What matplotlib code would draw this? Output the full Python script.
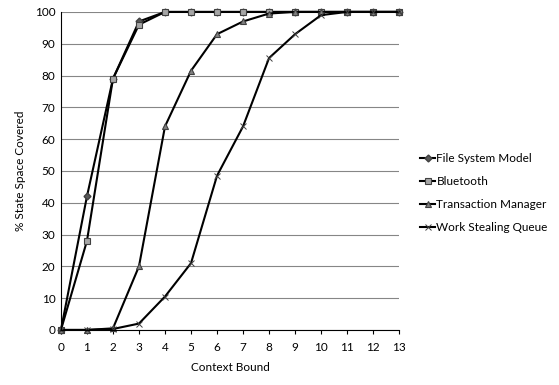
import numpy as np
import matplotlib
matplotlib.use('Agg')
import matplotlib.pyplot as plt

plt.rcParams['font.family'] = ['Lato', 'DejaVu Sans']

bounds = list(range(14))
file_system = [0, 42, 79, 97, 100, 100, 100, 100, 100, 100, 100, 100, 100, 100]
bluetooth = [0, 28, 79, 96, 100, 100, 100, 100, 100, 100, 100, 100, 100, 100]
transaction = [0, 0, 0.5, 20, 64, 81.5, 93, 97, 99.5, 100, 100, 100, 100, 100]
work_stealing = [0, 0, 0.3, 2, 10.5, 21, 48.5, 64, 85.5, 93, 99, 100, 100, 100]

fig = plt.figure(figsize=(5.59, 3.85), dpi=100)
ax = fig.add_axes([0.109, 0.143, 0.605, 0.826])

ax.plot(bounds, file_system, color='black', lw=1.5, marker='D', ms=3.5,
        mfc='#595959', mec='#404040', label='File System Model', clip_on=False)
ax.plot(bounds, bluetooth, color='black', lw=1.5, marker='s', ms=5,
        mfc='#a6a6a6', mec='#404040', mew=0.8, label='Bluetooth', clip_on=False)
ax.plot(bounds, transaction, color='black', lw=1.5, marker='^', ms=5,
        mfc='#808080', mec='#404040', mew=0.8, label='Transaction Manager', clip_on=False)
ax.plot(bounds, work_stealing, color='black', lw=1.5, marker='x', ms=4.5,
        mec='#404040', mew=0.7, label='Work Stealing Queue', clip_on=False)

ax.set_xlim(0, 13)
ax.set_ylim(0, 100)
ax.set_xticks(bounds)
ax.set_yticks(range(0, 101, 10))
ax.yaxis.grid(True, color='#868686', lw=0.8)
ax.set_axisbelow(True)
for s in ['top', 'right']:
    ax.spines[s].set_visible(False)
ax.spines['left'].set_color('black')
ax.spines['bottom'].set_color('black')
ax.tick_params(axis='y', length=0, labelsize=8.5, pad=4)
ax.tick_params(axis='x', length=3, labelsize=8.5, direction='out', pad=6)
ax.set_xlabel('Context Bound', fontsize=8.5, labelpad=6)
ax.set_ylabel('% State Space Covered', fontsize=8.5, labelpad=6)

ax.legend(loc='center left', bbox_to_anchor=(1.03, 0.43), frameon=False,
          fontsize=8.5, handlelength=1.3, handletextpad=0.1, labelspacing=1.0)

plt.savefig('out.png', dpi=100)
